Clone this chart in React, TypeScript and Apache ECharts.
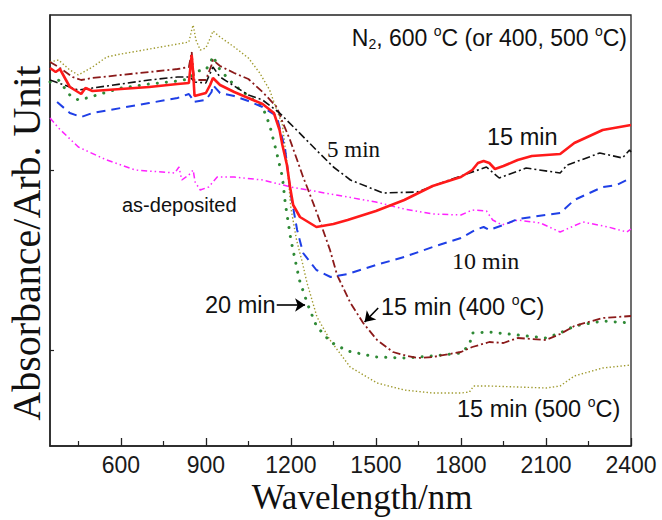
import React, { useEffect, useRef } from "react";
import * as echarts from "echarts";

// ---- data (wavelength in nm, absorbance in arbitrary units) ----
const asDepWl = [350, 380, 450, 550, 650, 790, 805, 815, 840, 855, 862, 880, 910, 940, 1000, 1100, 1200, 1300, 1400, 1500, 1600, 1700, 1800, 1840, 1890, 1912, 1945, 2000, 2080, 2150, 2230, 2320, 2385, 2400];
const asDepAbs = [3.28, 3.18, 2.99, 2.86, 2.76, 2.73, 2.79, 2.66, 2.71, 2.76, 2.64, 2.56, 2.59, 2.69, 2.69, 2.66, 2.59, 2.54, 2.49, 2.44, 2.37, 2.32, 2.31, 2.36, 2.35, 2.26, 2.21, 2.26, 2.23, 2.14, 2.24, 2.19, 2.14, 2.17];

const min5Wl = [350, 370, 450, 500, 600, 700, 800, 845, 860, 900, 925, 950, 1000, 1050, 1100, 1160, 1220, 1300, 1350, 1410, 1525, 1645, 1760, 1830, 1890, 1935, 2030, 2150, 2175, 2290, 2370, 2395, 2400];
const min5Abs = [3.66, 3.64, 3.56, 3.58, 3.62, 3.66, 3.69, 3.69, 3.64, 3.63, 3.79, 3.69, 3.6, 3.51, 3.46, 3.33, 3.16, 2.93, 2.79, 2.66, 2.53, 2.54, 2.66, 2.73, 2.79, 2.68, 2.78, 2.73, 2.81, 2.93, 2.88, 2.96, 2.94];

const min10Wl = [375, 420, 460, 500, 600, 700, 800, 840, 850, 855, 900, 920, 925, 950, 1000, 1050, 1100, 1150, 1180, 1200, 1222, 1243, 1290, 1340, 1400, 1500, 1600, 1700, 1800, 1850, 1880, 1900, 1950, 2000, 2100, 2150, 2200, 2300, 2350, 2400];
const min10Abs = [3.44, 3.33, 3.29, 3.33, 3.38, 3.43, 3.48, 3.52, 3.48, 3.44, 3.46, 3.54, 3.61, 3.53, 3.5, 3.45, 3.39, 3.3, 2.96, 2.51, 2.16, 1.93, 1.76, 1.69, 1.72, 1.81, 1.89, 1.99, 2.08, 2.16, 2.19, 2.16, 2.21, 2.27, 2.31, 2.33, 2.46, 2.59, 2.61, 2.68];

const min15Wl = [350, 370, 385, 420, 460, 475, 500, 600, 700, 800, 840, 850, 855, 860, 900, 915, 925, 950, 1000, 1050, 1100, 1140, 1160, 1170, 1186, 1197, 1208, 1232, 1290, 1350, 1400, 1500, 1600, 1700, 1800, 1840, 1860, 1880, 1900, 1920, 1950, 2000, 2050, 2150, 2200, 2300, 2400];
const min15Abs = [3.78, 3.74, 3.77, 3.59, 3.52, 3.58, 3.55, 3.57, 3.59, 3.62, 3.63, 3.91, 3.74, 3.5, 3.53, 3.61, 3.68, 3.61, 3.54, 3.48, 3.42, 3.33, 3.16, 3.01, 2.81, 2.59, 2.41, 2.29, 2.19, 2.22, 2.26, 2.35, 2.46, 2.6, 2.69, 2.76, 2.83, 2.85, 2.83, 2.77, 2.8, 2.86, 2.9, 2.92, 3.03, 3.16, 3.21];

const min20Wl = [350, 380, 420, 450, 480, 600, 700, 800, 840, 850, 870, 900, 920, 925, 950, 1000, 1050, 1100, 1125, 1150, 1170, 1180, 1200, 1215, 1230, 1260, 1290, 1340, 1400, 1500, 1600, 1700, 1800, 1830, 1840, 1900, 2000, 2100, 2150, 2200, 2300, 2400];
const min20Abs = [3.64, 3.66, 3.51, 3.46, 3.48, 3.58, 3.62, 3.65, 3.67, 3.7, 3.75, 3.76, 3.86, 3.9, 3.76, 3.61, 3.5, 3.39, 3.21, 2.93, 2.69, 2.43, 2.06, 1.86, 1.66, 1.41, 1.2, 1.04, 0.95, 0.89, 0.88, 0.9, 0.93, 1.01, 1.13, 1.14, 1.11, 1.08, 1.13, 1.2, 1.25, 1.23];

const t400Wl = [350, 380, 430, 460, 500, 600, 700, 800, 840, 850, 855, 860, 900, 920, 925, 950, 1000, 1050, 1100, 1150, 1172, 1197, 1222, 1243, 1257, 1292, 1338, 1363, 1410, 1455, 1504, 1560, 1610, 1650, 1700, 1800, 1840, 1900, 1950, 2000, 2100, 2150, 2200, 2300, 2400];
const t400Abs = [3.84, 3.79, 3.69, 3.66, 3.68, 3.71, 3.74, 3.77, 3.79, 3.94, 3.76, 3.66, 3.66, 3.81, 3.86, 3.8, 3.73, 3.67, 3.54, 3.39, 3.23, 3.06, 2.86, 2.69, 2.59, 2.33, 1.96, 1.71, 1.43, 1.23, 1.06, 0.94, 0.9, 0.88, 0.89, 0.94, 0.99, 1.04, 1.03, 1.08, 1.06, 1.12, 1.2, 1.28, 1.3];

const t500Wl = [350, 380, 420, 450, 500, 550, 600, 700, 800, 840, 850, 855, 865, 880, 900, 920, 925, 950, 1000, 1050, 1090, 1125, 1150, 1170, 1185, 1200, 1220, 1240, 1257, 1292, 1338, 1409, 1504, 1600, 1700, 1800, 1830, 1845, 1900, 2000, 2100, 2150, 2200, 2300, 2400];
const t500Abs = [3.84, 3.86, 3.76, 3.71, 3.79, 3.89, 3.92, 3.97, 4.02, 4.04, 4.16, 4.21, 4.06, 3.96, 3.98, 4.11, 4.15, 4.09, 3.99, 3.88, 3.73, 3.56, 3.36, 3.21, 2.86, 2.38, 2.06, 1.84, 1.63, 1.29, 1.06, 0.79, 0.63, 0.56, 0.53, 0.53, 0.54, 0.6, 0.6, 0.59, 0.58, 0.6, 0.7, 0.78, 0.81];

const majorTicks = [600, 900, 1200, 1500, 1800, 2100, 2400];
const minorTicks = [450, 750, 1050, 1350, 1650, 1950, 2250];
const yTicks = [0.96, 2.76];

const pairs = (xs: number[], ys: number[]) => xs.map((x, i) => [x, ys[i]]);

const SANS = "'Liberation Sans', Arial, sans-serif";
const SERIF = "'Liberation Serif', 'Times New Roman', serif";

const supRich = {
  sup: { fontSize: 14, fontFamily: SANS, color: "#111", padding: [0, 0, 14, 0] },
  sub: { fontSize: 14, fontFamily: SANS, color: "#111", padding: [12, 0, 0, 0] },
};

function txt(x: number, y: number, text: string, fontSize: number, family: string, align = "left", rotation = 0) {
  return {
    type: "text",
    x,
    y,
    rotation,
    z: 100,
    style: {
      text,
      fill: "#111",
      fontSize,
      fontFamily: family,
      textAlign: align,
      textVerticalAlign: "middle",
      align,
      verticalAlign: "middle",
      rich: supRich,
    },
  };
}

export default function App() {
  const ref = useRef<HTMLDivElement>(null);
  useEffect(() => {
    document.body.style.margin = "0";
    if (!ref.current) return;
    const chart = echarts.init(ref.current, undefined, { renderer: "svg" });
    const base = { type: "line", showSymbol: false, symbol: "none", xAxisIndex: 0, yAxisIndex: 0 };
    chart.setOption({
      animation: false,
      backgroundColor: "#fff",
      grid: { left: 50, right: 31, top: 15, bottom: 74, show: true, borderColor: "#222", borderWidth: 1.3, backgroundColor: "transparent" },
      xAxis: [
        {
          type: "value",
          min: 350,
          max: 2400,
          position: "bottom",
          axisLine: { show: true, lineStyle: { color: "#222", width: 1.5 } },
          axisTick: { show: true, inside: true, length: 8, customValues: majorTicks, lineStyle: { color: "#222", width: 1.3 } },
          axisLabel: { customValues: majorTicks, fontSize: 23, fontFamily: SANS, color: "#1a1a1a", margin: 7, formatter: (v: number) => String(v) },
          splitLine: { show: false },
        },
        {
          type: "value",
          min: 350,
          max: 2400,
          position: "bottom",
          axisLine: { show: false },
          axisTick: { show: true, inside: true, length: 5, customValues: minorTicks, lineStyle: { color: "#222", width: 1.2 } },
          axisLabel: { show: false },
          splitLine: { show: false },
        },
      ],
      yAxis: {
        type: "value",
        min: 0,
        max: 4.31,
        axisLine: { show: true, lineStyle: { color: "#222", width: 1.5 } },
        axisTick: { show: true, inside: true, length: 4, customValues: yTicks, lineStyle: { color: "#222", width: 1.2 } },
        axisLabel: { show: false },
        splitLine: { show: false },
      },
      series: [
        { ...base, name: "as-deposited", data: pairs(asDepWl, asDepAbs), lineStyle: { color: "#ff22ff", width: 1.5, type: [6, 3, 1.5, 3, 1.5, 3] } },
        { ...base, name: "15 min (500 °C)", data: pairs(t500Wl, t500Abs), lineStyle: { color: "#9f9a2e", width: 1.4, type: [1.4, 2.2] } },
        {
          ...base,
          name: "20 min",
          data: pairs(min20Wl, min20Abs),
          lineStyle: { color: "#2f8a36", width: 3, type: [0.1, 9], cap: "round" },
          markLine: {
            silent: true,
            symbol: ["none", "arrow"],
            symbolSize: 10,
            label: { show: false },
            lineStyle: { color: "#000", type: "solid", width: 1.6 },
            data: [[{ coord: [1150, 1.41] }, { coord: [1250, 1.41] }]],
          },
        },
        {
          ...base,
          name: "15 min (400 °C)",
          data: pairs(t400Wl, t400Abs),
          lineStyle: { color: "#8b1a1a", width: 1.8, type: [8, 3, 2, 3] },
          markLine: {
            silent: true,
            symbol: ["none", "arrow"],
            symbolSize: 10,
            label: { show: false },
            lineStyle: { color: "#000", type: "solid", width: 1.6 },
            data: [[{ coord: [1508, 1.38] }, { coord: [1460, 1.24] }]],
          },
        },
        { ...base, name: "10 min", data: pairs(min10Wl, min10Abs), lineStyle: { color: "#1f3fe6", width: 2, type: [9, 6] } },
        { ...base, name: "5 min", data: pairs(min5Wl, min5Abs), lineStyle: { color: "#111", width: 1.6, type: [8, 3, 2, 3] } },
        { ...base, name: "15 min", data: pairs(min15Wl, min15Abs), lineStyle: { color: "#ff1a1a", width: 2.6, type: "solid" } },
      ],
      graphic: [
        txt(627, 38, "N{sub|2}, 600 {sup|o}C (or 400, 500 {sup|o}C)", 23, SANS, "right"),
        txt(327, 149, "5 min", 23, SERIF),
        txt(487, 137, "15 min", 23.5, SANS),
        txt(122, 205, "as-deposited", 20, SANS),
        txt(452, 261, "10 min", 24, SERIF),
        txt(205, 305, "20 min", 23.5, SANS),
        txt(381, 307, "15 min (400 {sup|o}C)", 23.5, SANS),
        txt(457, 409, "15 min (500 {sup|o}C)", 23.5, SANS),
        txt(362, 497, "Wavelength/nm", 35, SERIF, "center"),
        txt(26, 243, "Absorbance/Arb. Unit", 40, SERIF, "center", Math.PI / 2),
      ],
    });
    return () => chart.dispose();
  }, []);
  return <div ref={ref} style={{ width: 662, height: 520 }} />;
}
